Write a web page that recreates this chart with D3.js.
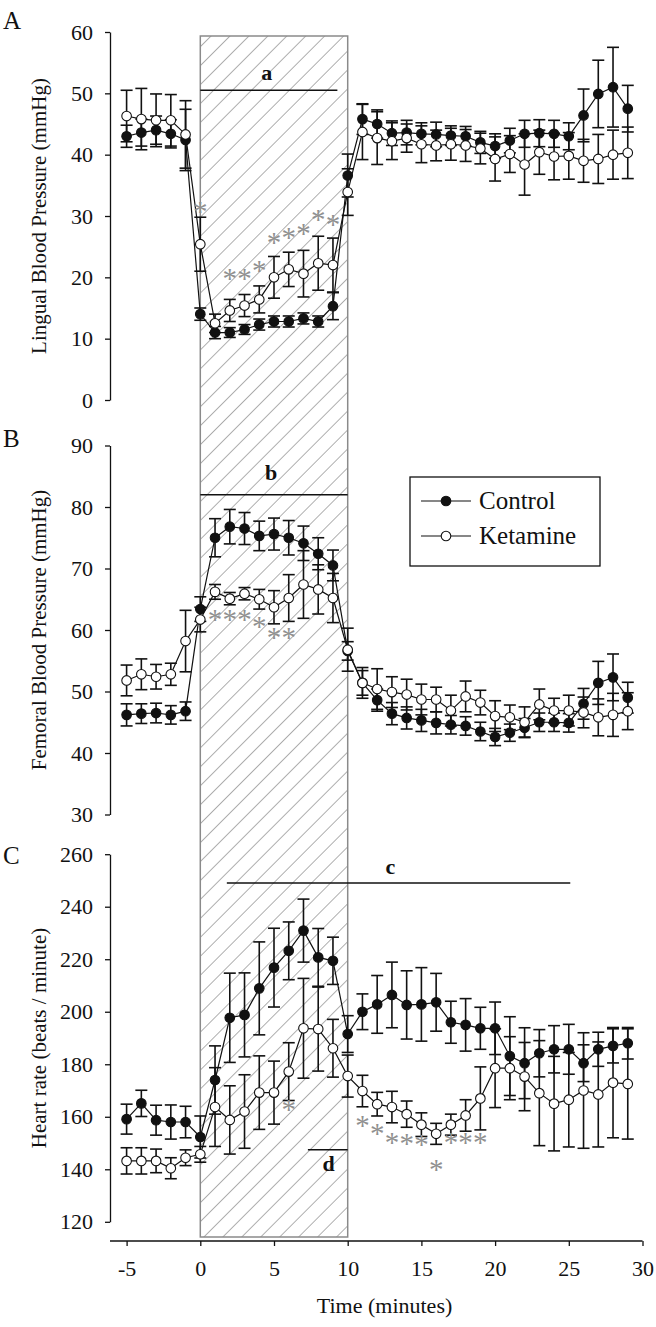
<!DOCTYPE html>
<html><head><meta charset="utf-8">
<script src="https://cdn.jsdelivr.net/npm/d3@7"></script>
<style>
body{margin:0;background:#fff}
svg{display:block}
text{font-family:"Liberation Serif","Times New Roman",serif;fill:#111}
</style>
</head><body>
<svg id="chart" width="656" height="1327" font-family="Liberation Serif"></svg>
<script>
// ---------- DATA ----------
const time = [-5,-4,-3,-2,-1,0,1,2,3,4,5,6,7,8,9,10,11,12,13,14,15,16,17,18,19,20,21,22,23,24,25,26,27,28,29];
const xTicks = [-5,0,5,10,15,20,25,30];

// Panel A: Lingual blood pressure (mmHg)
const lingualControl = [43.0,43.6,44.0,43.4,42.4,14.0,11.0,11.0,11.5,12.3,12.8,12.8,13.3,12.8,15.3,36.6,45.8,45.0,43.5,43.6,43.4,43.3,43.1,43.0,42.0,41.4,42.3,43.4,43.5,43.4,43.0,46.4,49.9,51.0,47.5];
const lingualControlErr = [1.8,2.2,2.3,2.3,5.0,1.0,1.0,0.8,0.8,0.9,0.9,0.9,0.9,0.9,2.2,3.5,2.5,2.3,2.0,2.0,1.8,2.0,1.6,1.6,1.8,2.0,2.0,2.2,2.2,2.2,2.2,4.3,5.5,6.5,3.8];
const lingualKetamine = [46.3,45.8,45.6,45.6,43.3,25.4,12.5,14.6,15.4,16.4,20.0,21.3,20.6,22.3,22.0,33.9,43.7,42.7,42.2,42.7,41.7,41.5,41.7,41.5,41.0,39.3,40.1,38.4,40.4,39.7,39.8,39.0,39.3,40.0,40.3];
const lingualKetamineErr = [4.2,5.0,4.3,4.2,5.5,4.4,1.5,1.8,1.8,2.2,3.4,2.8,3.8,4.4,4.4,3.8,4.5,4.3,3.0,2.3,3.0,2.5,2.6,2.6,2.5,3.6,3.0,5.0,3.6,3.8,3.8,3.5,4.0,4.0,4.2];
const lingualTicks = [0,10,20,30,40,50,60];
const lingualStarT = [0,2,3,4,5,6,7,8,9];
const lingualStarV = [31.5,20.6,20.6,21.8,26.4,27.3,27.8,30.1,29.4];

// Panel B: Femoral blood pressure (mmHg)
const femoralControl = [46.2,46.4,46.5,46.2,46.8,63.4,75.0,76.8,76.5,75.3,75.6,75.0,74.1,72.4,70.5,56.6,51.4,48.6,46.4,45.7,45.3,44.9,44.6,44.4,43.5,42.6,43.3,44.1,45.0,45.0,44.9,48.0,51.4,52.3,49.0];
const femoralControlErr = [1.8,1.6,1.6,1.5,1.5,2.0,3.1,2.8,2.6,2.4,2.6,2.8,2.8,2.6,2.5,1.5,2.0,1.8,1.8,1.8,1.8,1.8,1.5,1.5,1.5,1.4,1.4,1.5,1.5,1.5,1.5,2.5,3.5,3.8,2.5];
const femoralKetamine = [51.8,52.8,52.4,52.8,58.2,61.7,66.2,65.1,65.9,65.0,63.7,65.2,67.4,66.6,65.2,56.8,51.4,50.4,49.9,49.5,48.7,48.7,46.9,49.2,48.2,46.0,45.8,45.0,47.9,46.9,46.9,46.6,45.8,46.2,46.8];
const femoralKetamineErr = [2.5,2.5,2.0,1.8,5.0,2.0,1.2,1.0,1.0,1.6,2.7,3.8,5.5,4.0,4.0,3.5,2.5,3.3,2.5,2.5,2.5,2.0,2.5,2.5,2.0,2.5,2.0,2.5,2.5,2.0,2.5,2.5,3.0,3.5,3.0];
const femoralTicks = [30,40,50,60,70,80,90];
const femoralStarT = [1,2,3,4,5,6];
const femoralStarV = [62.4,62.4,62.5,61.3,59.5,59.5];

// Panel C: Heart rate (beats / minute)
const heartControl = [159.1,165.1,158.7,158.0,158.0,152.3,174.0,197.7,198.8,208.9,216.8,223.2,230.9,220.7,219.4,191.5,200.0,202.8,206.4,202.6,202.8,203.6,196.0,195.0,193.7,193.7,183.1,180.4,184.2,185.7,185.7,180.4,185.7,187.0,188.0];
const heartControlErr = [5.7,5.0,5.7,6.5,6.0,8.0,13.0,17.0,16.0,17.7,15.0,11.0,12.0,11.0,9.0,7.0,6.8,11.0,12.5,13.0,14.0,11.0,8.0,10.0,8.0,10.0,15.0,13.5,9.0,9.0,9.5,7.0,6.5,6.5,6.0];
const heartKetamine = [143.2,143.2,143.2,140.4,144.4,145.7,163.7,158.8,162.0,169.2,169.2,177.2,193.7,193.4,186.1,175.5,169.8,164.8,163.7,161.0,157.0,153.5,157.0,160.5,167.0,178.5,178.5,175.3,169.0,165.0,166.5,170.0,168.5,173.0,172.5];
const heartKetamineErr = [5.0,5.0,4.5,4.0,3.0,3.0,15.0,13.0,14.0,14.0,12.0,11.0,19.0,16.0,11.0,8.0,6.0,4.5,6.0,5.0,4.5,4.0,4.0,6.0,12.0,15.0,12.0,13.0,20.0,18.0,18.0,22.0,20.0,21.0,21.0];
const heartTicks = [120,140,160,180,200,220,240,260];
const heartStarT = [6,11,12,13,14,15,16,17,18,19];
const heartStarV = [164.4,158.4,155.3,152.1,151.5,151.0,141.5,152.0,152.0,152.0];

const seriesNames = ["Control","Ketamine"];
const panelLetters = ["A","B","C"];
const axisTitles = ["Lingual Blood Pressure (mmHg)","Femoral Blood Pressure (mmHg)","Heart rate (beats / minute)"];
const sigLabels = ["a","b","c","d"];
const stimulusWindow = [0,10];

// ---------- LAYOUT ----------
const FONT = "Liberation Serif";
const svg = d3.select("#chart");
const axisX = 110;
const x = d3.scaleLinear().domain([-5,30]).range([126.6,642.5]);

const panels = [
  {domain:[0,60], range:[400,32], ticks:lingualTicks, ctrl:lingualControl, ctrlE:lingualControlErr, ket:lingualKetamine, ketE:lingualKetamineErr, starT:lingualStarT, starV:lingualStarV, letterY:29},
  {domain:[30,90], range:[814.5,445.5], ticks:femoralTicks, ctrl:femoralControl, ctrlE:femoralControlErr, ket:femoralKetamine, ketE:femoralKetamineErr, starT:femoralStarT, starV:femoralStarV, letterY:447},
  {domain:[120,260], range:[1221.8,854.2], ticks:heartTicks, ctrl:heartControl, ctrlE:heartControlErr, ket:heartKetamine, ketE:heartKetamineErr, starT:heartStarT, starV:heartStarV, letterY:864}
];
panels.forEach(p => p.y = d3.scaleLinear().domain(p.domain).range(p.range));

// hatch pattern
const defs = svg.append("defs");
const pat = defs.append("pattern").attr("id","hatch").attr("patternUnits","userSpaceOnUse")
  .attr("width",13.4).attr("height",13.4).attr("patternTransform","rotate(45)");
pat.append("line").attr("x1",0).attr("y1",-1).attr("x2",0).attr("y2",15).attr("stroke","#6e6e6e").attr("stroke-width",1.1);

// stimulus box
svg.append("rect")
  .attr("x",x(stimulusWindow[0])).attr("y",36)
  .attr("width",x(stimulusWindow[1])-x(stimulusWindow[0])).attr("height",1237-36)
  .attr("fill","url(#hatch)").attr("stroke","#8a8a8a").attr("stroke-width",1.5);

// axes per panel
panels.forEach((p,i) => {
  const g = svg.append("g").attr("transform",`translate(${axisX},0)`);
  g.call(d3.axisLeft(p.y).tickValues(p.ticks).tickFormat(d=>String(d)).tickSize(5).tickPadding(12).tickSizeOuter(0));
  g.attr("font-family",FONT);
  g.select(".domain").attr("stroke","#111").attr("stroke-width",1.3);
  g.selectAll(".tick line").attr("stroke","#111").attr("stroke-width",1.3);
  g.selectAll(".tick text").attr("font-size",22).attr("font-family",FONT).attr("fill","#111");
  const mid = (p.range[0]+p.range[1])/2;
  svg.append("text").attr("transform",`translate(46,${mid}) rotate(-90)`)
    .attr("text-anchor","middle").attr("font-size",21).attr("font-family",FONT).text(axisTitles[i]);
  svg.append("text").attr("x",3).attr("y",p.letterY).attr("font-size",25).attr("font-family",FONT).text(panelLetters[i]);
});

// x axis
const xg = svg.append("g").attr("transform","translate(0,1241)").attr("font-family",FONT);
xg.call(d3.axisBottom(x).tickValues(xTicks).tickFormat(d=>String(d)).tickSize(5).tickPadding(14).tickSizeOuter(0));
xg.select(".domain").remove();
xg.append("line").attr("x1",axisX).attr("x2",642.5).attr("y1",0).attr("y2",0).attr("stroke","#111").attr("stroke-width",1.3);
xg.selectAll(".tick line").attr("stroke","#111").attr("stroke-width",1.3);
xg.selectAll(".tick text").attr("font-size",22).attr("font-family",FONT).attr("fill","#111");
svg.append("text").attr("x",(x(-5)+x(30))/2).attr("y",1313).attr("text-anchor","middle")
  .attr("font-size",22).attr("font-family",FONT).text("Time (minutes)");

// significance bars
const P = panels;
const sigBars = [
  {p:0, t0:0, t1:9.3, v:50.5, lt:4.5, lv:52.2, label:sigLabels[0]},
  {p:1, t0:0, t1:10, v:82.0, lt:4.8, lv:84.4, label:sigLabels[1]},
  {p:2, t0:1.8, t1:25.1, v:249, lt:12.9, lv:252.5, label:sigLabels[2]},
  {p:2, t0:7.3, t1:10, v:147.4, lt:8.7, lv:139.5, label:sigLabels[3]}
];
sigBars.forEach(s => {
  const y = P[s.p].y;
  svg.append("line").attr("x1",x(s.t0)).attr("x2",x(s.t1)).attr("y1",y(s.v)).attr("y2",y(s.v))
    .attr("stroke","#111").attr("stroke-width",1.5);
  svg.append("text").attr("x",x(s.lt)).attr("y",y(s.lv)).attr("text-anchor","middle")
    .attr("font-size",22).attr("font-weight","bold").attr("font-family",FONT).text(s.label);
});

// series
function drawSeries(p, vals, errs){
  const g = svg.append("g");
  const line = d3.line().x((d,i)=>x(time[i])).y(d=>p.y(d));
  g.append("path").datum(vals).attr("d",line).attr("fill","none").attr("stroke","#111").attr("stroke-width",1.2);
  vals.forEach((v,i)=>{
    const cx = x(time[i]), y1 = p.y(v-errs[i]), y2 = p.y(v+errs[i]);
    g.append("line").attr("x1",cx).attr("x2",cx).attr("y1",y1).attr("y2",y2).attr("stroke","#111").attr("stroke-width",1.6);
    [y1,y2].forEach(yy=>g.append("line").attr("x1",cx-6).attr("x2",cx+6).attr("y1",yy).attr("y2",yy).attr("stroke","#111").attr("stroke-width",1.6));
  });
}
function drawMarkers(p, vals, filled){
  svg.append("g").selectAll("circle").data(vals).join("circle")
    .attr("cx",(d,i)=>x(time[i])).attr("cy",d=>p.y(d)).attr("r",4.8)
    .attr("fill",filled?"#111":"#fff").attr("stroke","#111").attr("stroke-width",1.1);
}
panels.forEach(p=>{
  drawSeries(p, p.ket, p.ketE);
  drawSeries(p, p.ctrl, p.ctrlE);
  drawMarkers(p, p.ctrl, true);
  drawMarkers(p, p.ket, false);
  svg.append("g").selectAll("text").data(p.starT).join("text")
    .attr("x",d=>x(d)).attr("y",(d,i)=>p.y(p.starV[i])+14)
    .attr("text-anchor","middle").attr("font-size",29).attr("font-family",FONT)
    .style("fill","#909090").text("*");
});

// legend
const lg = svg.append("g");
lg.append("rect").attr("x",410).attr("y",477).attr("width",190).attr("height",89)
  .attr("fill","#fff").attr("stroke","#111").attr("stroke-width",1.3);
seriesNames.forEach((name,i)=>{
  const yy = 501 + i*35;
  lg.append("line").attr("x1",421).attr("x2",471).attr("y1",yy).attr("y2",yy).attr("stroke","#111").attr("stroke-width",1.2);
  lg.append("circle").attr("cx",446).attr("cy",yy).attr("r",4.8).attr("fill",i===0?"#111":"#fff").attr("stroke","#111").attr("stroke-width",1.1);
  lg.append("text").attr("x",479).attr("y",yy+8).attr("font-size",25).attr("font-family",FONT).text(name);
});
</script>
</body></html>
